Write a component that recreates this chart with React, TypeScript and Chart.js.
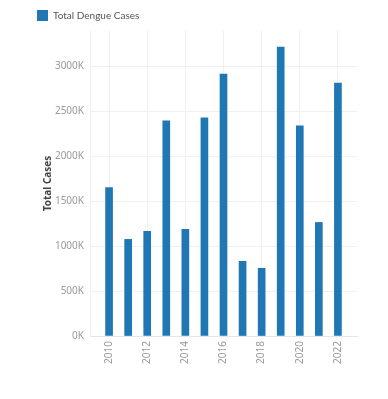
import React, { useEffect, useRef } from "react";
import { Chart, registerables } from "chart.js";

Chart.register(...registerables);

const years = [2010, 2011, 2012, 2013, 2014, 2015, 2016, 2017, 2018, 2019, 2020, 2021, 2022];
const totalCases = [1650000, 1074000, 1163000, 2392000, 1185000, 2425000, 2912000, 830000, 753000, 3211000, 2336000, 1262000, 2812000];
const xTickYears = [2010, 2012, 2014, 2016, 2018, 2020, 2022];
const yTickValues = [0, 500000, 1000000, 1500000, 2000000, 2500000, 3000000];

const FONT = "'Noto Sans', 'Open Sans', sans-serif";

export default function App() {
  const ref = useRef<HTMLCanvasElement | null>(null);
  useEffect(() => {
    if (!ref.current) return;
    const chart = new Chart(ref.current, {
      type: "bar",
      data: {
        datasets: [
          {
            label: "Total Dengue Cases",
            data: years.map((y, i) => ({ x: y, y: totalCases[i] })),
            backgroundColor: "#1f77b4",
            borderColor: "#1f77b4",
            borderWidth: 0,
            barThickness: 7,
          },
        ],
      },
      options: {
        animation: false,
        responsive: true,
        maintainAspectRatio: false,
        layout: { padding: { left: 29, right: 31, top: 2, bottom: 20 } },
        plugins: {
          legend: {
            display: true,
            position: "top",
            align: "start",
            labels: {
              boxWidth: 11,
              boxHeight: 11,
              padding: 8,
              color: "#555",
              font: { family: "Lato, sans-serif", size: 10 },
            },
          },
          tooltip: { enabled: false },
        },
        scales: {
          x: {
            type: "linear",
            min: 2009,
            max: 2023,
            offset: false,
            afterBuildTicks: (scale: any) => {
              scale.ticks = xTickYears.map((v) => ({ value: v }));
            },
            afterFit: (scale: any) => {
              scale.height = 43;
            },
            grid: { color: "#f0f0f0", drawTicks: false, offset: false },
            border: { color: "#e6e6e6" },
            ticks: {
              minRotation: 90,
              maxRotation: 90,
              padding: 5,
              color: "#999",
              font: { family: FONT, size: 10 },
              callback: (v: any) => String(v),
            },
          },
          y: {
            min: 0,
            max: 3390000,
            afterBuildTicks: (scale: any) => {
              scale.ticks = yTickValues.map((v) => ({ value: v }));
            },
            afterFit: (scale: any) => {
              scale.width = 61;
            },
            grid: { color: "#f0f0f0", drawTicks: false },
            border: { color: "#f0f0f0" },
            title: {
              display: true,
              text: "Total Cases",
              color: "#444",
              font: { family: FONT, size: 10, weight: "bold" },
              padding: { top: 13, bottom: 0 },
            },
            ticks: {
              padding: 6,
              color: "#999",
              font: { family: FONT, size: 10 },
              callback: (v: any) => `${Math.round(Number(v) / 1000)}K`,
            },
          },
        },
      },
    });
    return () => chart.destroy();
  }, []);
  return (
    <div style={{ position: "absolute", left: 0, top: 0, width: 388, height: 399 }}>
      <canvas ref={ref} />
    </div>
  );
}
